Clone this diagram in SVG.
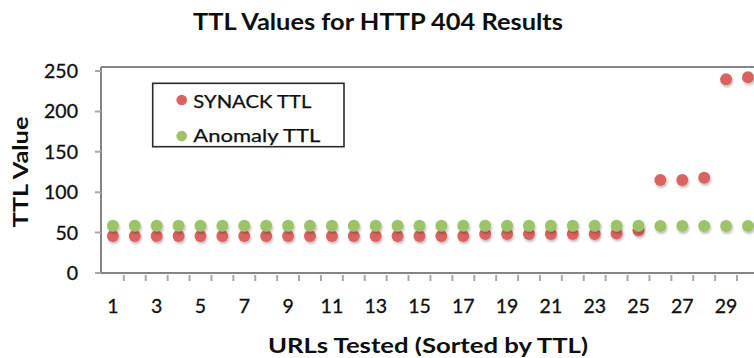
<svg xmlns="http://www.w3.org/2000/svg" xmlns:xlink="http://www.w3.org/1999/xlink" width="754" height="358" viewBox="0 0 754 358">
<defs>
<style>
.t{font-family:Lato,"Open Sans","Liberation Sans",sans-serif;fill:#0e0e0e}
.title{font-size:23px;font-weight:bold}
.axt{font-size:21px;font-weight:bold}
.tick{font-size:19.5px;stroke:#0e0e0e;stroke-width:0.3}
.leg{font-size:17.5px;stroke:#0e0e0e;stroke-width:0.25}
.axis{stroke:#858585;stroke-width:2;fill:none}
.tk{stroke:#a8a8a8;stroke-width:2;fill:none}
.r{fill:#D96360}
.g{fill:#9DC367}
</style>
<filter id="sh" x="-50%" y="-50%" width="200%" height="200%">
<feDropShadow dx="1" dy="2" stdDeviation="1" flood-color="#000" flood-opacity="0.25"/>
</filter>
<circle id="dr" r="6" class="r"/>
<circle id="dg" r="6" class="g"/>
</defs>
<rect width="754" height="358" fill="#fff"/>
<text class="t title" x="378" y="30" text-anchor="middle" textLength="370" lengthAdjust="spacingAndGlyphs">TTL Values for HTTP 404 Results</text>
<g id="axes">
<path class="axis" d="M101 67H754M101 67V273H754"/>
<path class="tk" d="M95 71H101M95 111.4H101M95 151.8H101M95 192.2H101M95 232.6H101M95 273H101"/>
<path class="tk" d="M123.85 275V281M145.75 275V281M167.65 275V281M189.55 275V281M211.45 275V281M233.35 275V281M255.25 275V281M277.15 275V281M299.05 275V281M320.95 275V281M342.85 275V281M364.75 275V281M386.65 275V281M408.55 275V281M430.45 275V281M452.35 275V281M474.25 275V281M496.15 275V281M518.05 275V281M539.95 275V281M561.85 275V281M583.75 275V281M605.65 275V281M627.55 275V281M649.45 275V281M671.35 275V281M693.25 275V281M715.15 275V281M737.05 275V281"/>
<g class="t tick" text-anchor="end">
<text x="78" y="78">250</text>
<text x="78" y="118.4">200</text>
<text x="78" y="158.8">150</text>
<text x="78" y="199.2">100</text>
<text x="78" y="239.6">50</text>
<text x="78" y="280">0</text>
</g>
<g class="t tick" text-anchor="middle">
<text x="112.9" y="313">1</text>
<text x="156.7" y="313">3</text>
<text x="200.5" y="313">5</text>
<text x="244.3" y="313">7</text>
<text x="288.1" y="313">9</text>
<text x="331.9" y="313">11</text>
<text x="375.7" y="313">13</text>
<text x="419.5" y="313">15</text>
<text x="463.3" y="313">17</text>
<text x="507.1" y="313">19</text>
<text x="550.9" y="313">21</text>
<text x="594.7" y="313">23</text>
<text x="638.5" y="313">25</text>
<text x="682.3" y="313">27</text>
<text x="726.1" y="313">29</text>
</g>
<text class="t axt" x="428" y="353" text-anchor="middle" textLength="320" lengthAdjust="spacingAndGlyphs">URLs Tested (Sorted by TTL)</text>
<text class="t axt" x="28" y="172" text-anchor="middle" transform="rotate(-90 28 172)" textLength="111" lengthAdjust="spacingAndGlyphs">TTL Value</text>
</g>
<g id="series-synack" filter="url(#sh)">
<use xlink:href="#dr" x="112.9" y="236"/><use xlink:href="#dr" x="134.8" y="236"/><use xlink:href="#dr" x="156.7" y="236"/><use xlink:href="#dr" x="178.6" y="236"/><use xlink:href="#dr" x="200.5" y="236"/><use xlink:href="#dr" x="222.4" y="236"/><use xlink:href="#dr" x="244.3" y="236"/><use xlink:href="#dr" x="266.2" y="236"/><use xlink:href="#dr" x="288.1" y="236"/><use xlink:href="#dr" x="310" y="236"/><use xlink:href="#dr" x="331.9" y="236"/><use xlink:href="#dr" x="353.8" y="236"/><use xlink:href="#dr" x="375.7" y="236"/><use xlink:href="#dr" x="397.6" y="236"/><use xlink:href="#dr" x="419.5" y="236"/><use xlink:href="#dr" x="441.4" y="236"/><use xlink:href="#dr" x="463.3" y="236"/><use xlink:href="#dr" x="485.2" y="234"/><use xlink:href="#dr" x="507.1" y="234"/><use xlink:href="#dr" x="529" y="234"/><use xlink:href="#dr" x="550.9" y="234"/><use xlink:href="#dr" x="572.8" y="234"/><use xlink:href="#dr" x="594.7" y="234"/><use xlink:href="#dr" x="616.6" y="233.5"/><use xlink:href="#dr" x="638.5" y="230.5"/><use xlink:href="#dr" x="660.4" y="180"/><use xlink:href="#dr" x="682.3" y="180"/><use xlink:href="#dr" x="704.2" y="177.7"/><use xlink:href="#dr" x="726.1" y="79.3"/><use xlink:href="#dr" x="748" y="77.3"/>
</g>
<g id="series-anomaly" filter="url(#sh)">
<use xlink:href="#dg" x="112.9" y="225.8"/><use xlink:href="#dg" x="134.8" y="225.8"/><use xlink:href="#dg" x="156.7" y="225.8"/><use xlink:href="#dg" x="178.6" y="225.8"/><use xlink:href="#dg" x="200.5" y="225.8"/><use xlink:href="#dg" x="222.4" y="225.8"/><use xlink:href="#dg" x="244.3" y="225.8"/><use xlink:href="#dg" x="266.2" y="225.8"/><use xlink:href="#dg" x="288.1" y="225.8"/><use xlink:href="#dg" x="310" y="225.8"/><use xlink:href="#dg" x="331.9" y="225.8"/><use xlink:href="#dg" x="353.8" y="225.8"/><use xlink:href="#dg" x="375.7" y="225.8"/><use xlink:href="#dg" x="397.6" y="225.8"/><use xlink:href="#dg" x="419.5" y="225.8"/><use xlink:href="#dg" x="441.4" y="225.8"/><use xlink:href="#dg" x="463.3" y="225.8"/><use xlink:href="#dg" x="485.2" y="225.8"/><use xlink:href="#dg" x="507.1" y="225.8"/><use xlink:href="#dg" x="529" y="225.8"/><use xlink:href="#dg" x="550.9" y="225.8"/><use xlink:href="#dg" x="572.8" y="225.8"/><use xlink:href="#dg" x="594.7" y="225.8"/><use xlink:href="#dg" x="616.6" y="225.8"/><use xlink:href="#dg" x="638.5" y="225.8"/><use xlink:href="#dg" x="660.4" y="226"/><use xlink:href="#dg" x="682.3" y="226"/><use xlink:href="#dg" x="704.2" y="226"/><use xlink:href="#dg" x="726.1" y="226"/><use xlink:href="#dg" x="748" y="226"/>
</g>
<g id="legend">
<rect x="152.7" y="83.3" width="191.3" height="63.4" fill="#fff" stroke="#2a2a2a" stroke-width="1.6"/>
<circle cx="181.7" cy="100" r="5.3" class="r"/>
<circle cx="181.7" cy="136" r="5.3" class="g"/>
<text class="t leg" x="193.3" y="108.3" textLength="118" lengthAdjust="spacingAndGlyphs">SYNACK TTL</text>
<text class="t leg" x="193.3" y="141.5" textLength="127" lengthAdjust="spacingAndGlyphs">Anomaly TTL</text>
</g>
</svg>
